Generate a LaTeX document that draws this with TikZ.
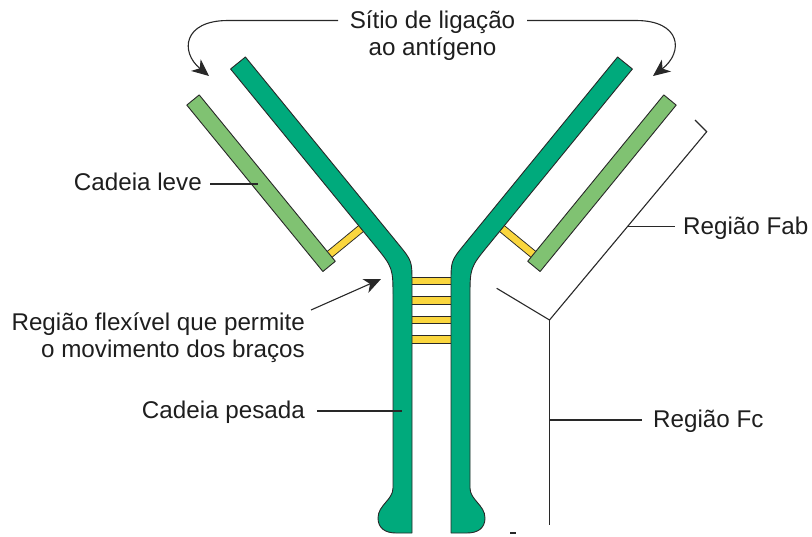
\documentclass[tikz,border=0pt]{standalone}
\usepackage{fontspec}
\setmainfont{Liberation Sans}
\usetikzlibrary{arrows.meta}
\definecolor{heavygreen}{RGB}{0,170,124}
\definecolor{lightgreen}{RGB}{128,194,114}
\definecolor{bondyellow}{RGB}{250,214,62}
\definecolor{inkline}{RGB}{40,40,40}
\definecolor{labeltext}{RGB}{30,30,30}
\tikzset{
  outl/.style={draw=inkline, line width=0.9pt, line join=round},
  heavychain/.style={outl, fill=heavygreen},
  lightchain/.style={outl, fill=lightgreen},
  bondout/.style={line width=8.4pt, draw=inkline},
  bondin/.style={line width=6.6pt, draw=bondyellow},
  leader/.style={draw=inkline, line width=1.1pt},
  pointer/.style={leader, -{Stealth[length=17pt, width=15pt, inset=5pt]}},
  bracketline/.style={draw=inkline, line width=1.1pt, line join=miter},
  lbl/.style={inner sep=0pt, text=labeltext, font=\fontsize{24.2}{27}\selectfont}
}
\begin{document}
\begin{tikzpicture}[x=1pt, y=-1pt]
\useasboundingbox (0,0) rectangle (812,536);

% one half of the antibody: light chain and its bond to the heavy chain
\newcommand{\antibodyhalf}{%
  % disulfide bond light--heavy
  \draw[bondout] (328.1,255.6) -- (364.4,225.8);
  \draw[bondin]  (328.1,255.6) -- (364.4,225.8);
  % light chain
  \path[lightchain] (186.8,105.1) -- (199.2,94.9) -- (335.3,261.3) -- (322.9,271.5) -- cycle;
}

% hinge disulfide bonds
\foreach \yy in {281,300.5,320,339.5}{
  \draw[bondout] (408,\yy) -- (455,\yy);
  \draw[bondin]  (408,\yy) -- (455,\yy);
}

\antibodyhalf
\path[heavychain] (245.4,57) -- (398.1,243.8) .. controls (412,260.8) .. (412,282.8)
   -- (412,533) -- (396,533) .. controls (385,533) and (378,528) .. (378,518)
   .. controls (378,505) and (393,500) .. (393,488) -- (393,297.6)
   .. controls (393,267.6) .. (374.0,244.4) -- (230.6,69) -- cycle;

\begin{scope}[shift={(863,0)}, xscale=-1]
  \antibodyhalf
  \path[heavychain] (245.4,57) -- (398.1,243.8) .. controls (412,260.8) .. (412,282.8)
     -- (412,533) -- (396,533) .. controls (385,533) and (378,528) .. (378,518)
     .. controls (378,505) and (393,500) .. (393,488) -- (393,297.6)
     .. controls (393,267.6) .. (374.0,244.4) -- (230.6,69) -- cycle;
\end{scope}

% Fab / Fc brackets
\coordinate (fabtop) at (695,120);
\coordinate (fabcorner) at (706.7,131.7);
\coordinate (fork) at (549.5,320);
\coordinate (fabbot) at (496.7,288.3);
\coordinate (fcend) at (549.5,525);
\draw[bracketline] (fabtop) -- (fabcorner) -- (fork) -- (fabbot);
\draw[bracketline] (fork) -- (fcend);
\draw[inkline, line width=1.2pt] (510,533) -- (516,533);

% title and its two arrows
\node[lbl, align=center, anchor=base] (site) at (432.5,55) {Sítio de ligação\\ao antígeno};
\coordinate (siteL) at (338,20.5);
\coordinate (siteR) at (527,20.5);
\coordinate (tipL) at (209,76);
\coordinate (tipR) at (653,76);
\draw[pointer] (siteL) -- (228,20.5) .. controls (183,20.5) and (180,52) .. (tipL);
\draw[pointer] (siteR) -- (636,20.5) .. controls (681,20.5) and (684,52) .. (tipR);

% side labels
\node[lbl, anchor=base east] (light) at (202,190) {Cadeia leve};
\coordinate (lightpt) at (258,184);
\draw[leader] (210,184) -- (lightpt);

\node[lbl, anchor=base east, align=right] (hinge) at (305,357) {Região flexível que permite\\o movimento dos braços};
\coordinate (hingetip) at (381,279);
\draw[pointer] (311,310) -- (hingetip);

\node[lbl, anchor=base east] (heavy) at (305,418) {Cadeia pesada};
\coordinate (heavypt) at (402,411);
\draw[leader] (317,411) -- (heavypt);

\node[lbl, anchor=base west] (fab) at (683,234) {Região Fab};
\coordinate (fabpt) at (628,226.5);
\draw[leader] (fabpt) -- (675,226.5);

\node[lbl, anchor=base west] (fc) at (653,427) {Região Fc};
\coordinate (fcpt) at (549.5,420);
\draw[leader] (fcpt) -- (642,420);
\end{tikzpicture}
\end{document}
